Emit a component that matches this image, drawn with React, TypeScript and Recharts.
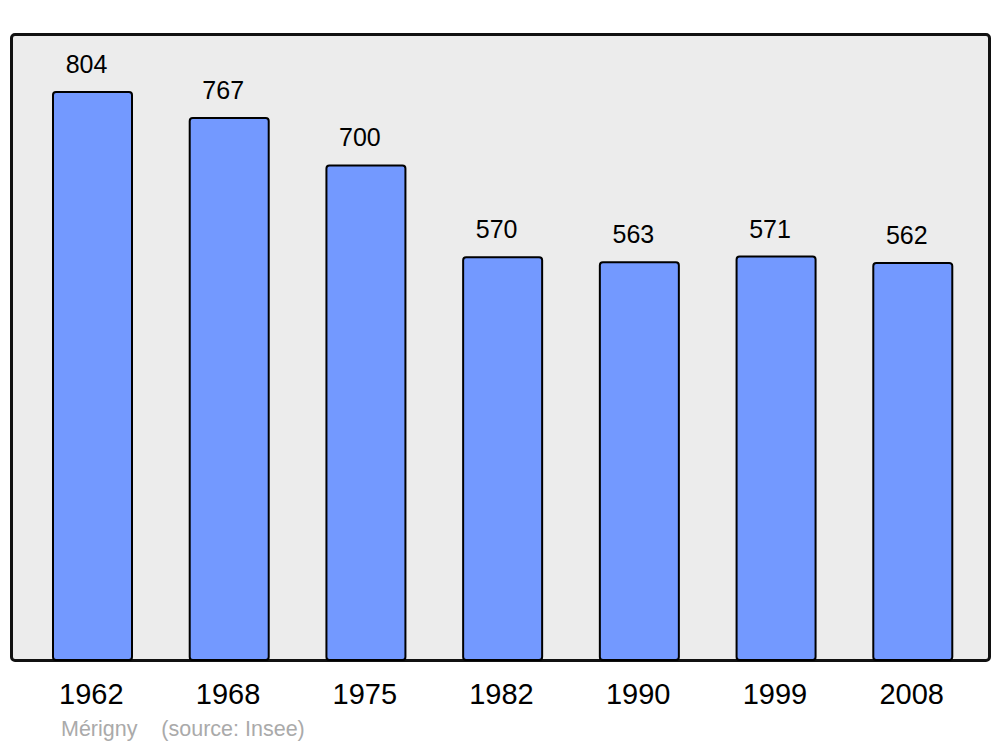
import { BarChart, Bar, XAxis, YAxis, LabelList } from 'recharts'

const years = ['1962', '1968', '1975', '1982', '1990', '1999', '2008']
const population = [804, 767, 700, 570, 563, 571, 562]
const town = 'Mérigny'
const source = '(source: Insee)'

const data = years.map((year, i) => ({ year, population: population[i] }))

const font = '"Liberation Sans", Arial, sans-serif'

const ValueLabel = (props: any) => {
  const { x, y, width, value } = props
  return (
    <text x={x + width / 2 - 6} y={y - 19} textAnchor="middle" fontSize={25} fontFamily={font} fill="#000">
      {value}
    </text>
  )
}

const YearTick = (props: any) => {
  const { x, y, payload } = props
  return (
    <text x={x - 1} y={y + 42} textAnchor="middle" fontSize={29} fontFamily={font} fill="#000">
      {payload.value}
    </text>
  )
}

export default function App() {
  return (
    <div style={{ position: 'absolute', left: 0, top: 0, width: 1000, height: 747, background: '#fff' }}>
      <div
        style={{
          position: 'absolute',
          left: 10,
          top: 33,
          width: 975,
          height: 623,
          background: '#ececec',
          border: '3px solid #111',
          borderRadius: 5,
        }}
      />
      <div style={{ position: 'absolute', left: 0, top: 0 }}>
        <BarChart
          width={1000}
          height={747}
          data={data}
          margin={{ top: 34, right: 19, bottom: 57, left: 24 }}
        >
          <YAxis hide domain={[0, 886]} />
          <XAxis dataKey="year" height={30} axisLine={false} tickLine={false} tickSize={0} tick={<YearTick />} interval={0} />
          <Bar
            dataKey="population"
            fill="#7399ff"
            stroke="#000"
            strokeWidth={2}
            barSize={79}
            radius={3}
            isAnimationActive={false}
          >
            <LabelList dataKey="population" content={<ValueLabel />} />
          </Bar>
        </BarChart>
      </div>
      <div
        style={{
          position: 'absolute',
          left: 61,
          top: 717,
          fontFamily: font,
          fontSize: 21.5,
          color: '#aaa',
          whiteSpace: 'pre',
        }}
      >
        {town + '    ' + source}
      </div>
    </div>
  )
}
